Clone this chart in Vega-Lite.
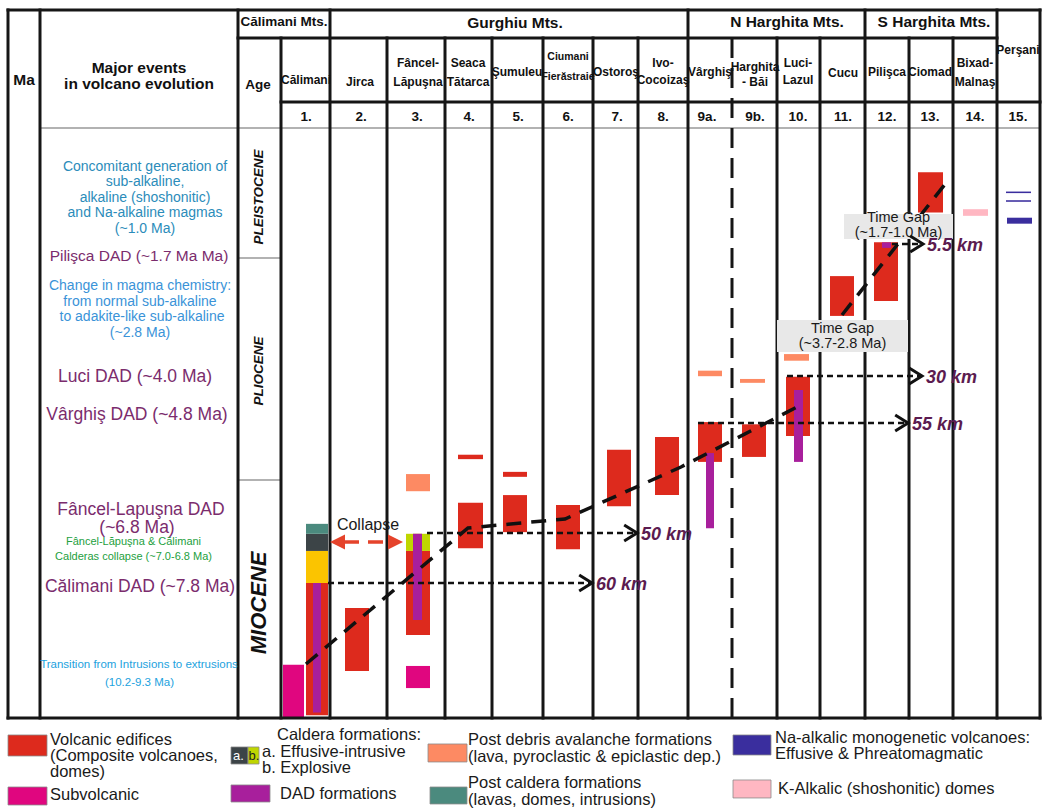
{
"$schema": "https://vega.github.io/schema/vega-lite/v6.json",
"width": 1043, "height": 812, "padding": 0,
"autosize": {"type": "fit", "contains": "padding"},
"background": "#ffffff",
"config": {"view": {"stroke": null}},
"datasets": {
"frame": [
{"x":8,"xEnd":8,"ma":-2.622,"maEnd":10.181},
{"x":40,"xEnd":40,"ma":-2.622,"maEnd":10.181},
{"x":238,"xEnd":238,"ma":-2.622,"maEnd":10.181},
{"x":281,"xEnd":281,"ma":-2.116,"maEnd":10.181},
{"x":330,"xEnd":330,"ma":-2.622,"maEnd":10.181},
{"x":387,"xEnd":387,"ma":-2.116,"maEnd":10.181},
{"x":445,"xEnd":445,"ma":-2.116,"maEnd":10.181},
{"x":492,"xEnd":492,"ma":-2.116,"maEnd":10.181},
{"x":543,"xEnd":543,"ma":-2.116,"maEnd":10.181},
{"x":593,"xEnd":593,"ma":-2.116,"maEnd":10.181},
{"x":638,"xEnd":638,"ma":-2.116,"maEnd":10.181},
{"x":688,"xEnd":688,"ma":-2.622,"maEnd":10.181},
{"x":777,"xEnd":777,"ma":-2.116,"maEnd":10.181},
{"x":820,"xEnd":820,"ma":-2.116,"maEnd":10.181},
{"x":865,"xEnd":865,"ma":-2.622,"maEnd":10.181},
{"x":909,"xEnd":909,"ma":-2.116,"maEnd":10.181},
{"x":953,"xEnd":953,"ma":-2.116,"maEnd":10.181},
{"x":997,"xEnd":997,"ma":-2.622,"maEnd":10.181},
{"x":1040,"xEnd":1040,"ma":-2.622,"maEnd":10.181},
{"x":8,"xEnd":1040,"ma":-2.622,"maEnd":-2.622},
{"x":238,"xEnd":997,"ma":-2.116,"maEnd":-2.116},
{"x":281,"xEnd":1040,"ma":-0.958,"maEnd":-0.958},
{"x":8,"xEnd":1040,"ma":10.181,"maEnd":10.181}
],
"thinLines": [
{"x":40,"xEnd":1040,"ma":-0.488,"maEnd":-0.488},
{"x":238,"xEnd":281,"ma":1.863,"maEnd":1.863},
{"x":238,"xEnd":281,"ma":5.877,"maEnd":5.877}
],
"dashedCol": [{"x":732,"xEnd":732,"ma":-2.116,"maEnd":10.181}],
"majorTicks": [{"ma":0},{"ma":0.5},{"ma":1},{"ma":1.5},{"ma":2},{"ma":2.5},{"ma":3},{"ma":3.5},{"ma":4},{"ma":4.5},{"ma":5},{"ma":5.5},{"ma":6},{"ma":6.5},{"ma":7},{"ma":7.5},{"ma":8},{"ma":8.5},{"ma":9},{"ma":9.5},{"ma":10}],
"minorTicks": [{"ma":0.25},{"ma":0.75},{"ma":1.25},{"ma":1.75},{"ma":2.25},{"ma":2.75},{"ma":3.25},{"ma":3.75},{"ma":4.25},{"ma":4.75},{"ma":5.25},{"ma":5.75},{"ma":6.25},{"ma":6.75},{"ma":7.25},{"ma":7.75},{"ma":8.25},{"ma":8.75},{"ma":9.25},{"ma":9.75}],
"maLabels": [{"t":"0","ma":0},{"t":"1","ma":1},{"t":"2","ma":2},{"t":"3","ma":3},{"t":"4","ma":4},{"t":"5","ma":5},{"t":"6","ma":6},{"t":"7","ma":7},{"t":"8","ma":8},{"t":"9","ma":9},{"t":"10","ma":10}],
"bars": [
{"site":"Călimani","type":"subvolcanic","x":283,"xEnd":304,"ma":9.22,"maEnd":10.18},
{"site":"Călimani","type":"volcanic","x":306,"xEnd":328,"ma":7.74,"maEnd":10.13},
{"site":"Călimani","type":"calderaPre","x":306,"xEnd":328,"ma":7.16,"maEnd":7.74},
{"site":"Călimani","type":"calderaA","x":306,"xEnd":328,"ma":6.85,"maEnd":7.16},
{"site":"Călimani","type":"postcaldera","x":306,"xEnd":328,"ma":6.67,"maEnd":6.85},
{"site":"Jirca","type":"volcanic","x":345,"xEnd":369,"ma":8.19,"maEnd":9.33},
{"site":"Fâncel-Lăpuşna","type":"postdebris","x":406,"xEnd":430,"ma":5.77,"maEnd":6.08},
{"site":"Fâncel-Lăpuşna","type":"calderaB","x":406,"xEnd":430,"ma":6.85,"maEnd":7.16},
{"site":"Fâncel-Lăpuşna","type":"volcanic","x":406,"xEnd":430,"ma":7.16,"maEnd":8.68},
{"site":"Fâncel-Lăpuşna","type":"subvolcanic","x":406,"xEnd":430,"ma":9.24,"maEnd":9.64},
{"site":"Seaca Tătarca","type":"volcanic","x":458,"xEnd":483,"ma":5.42,"maEnd":5.5},
{"site":"Seaca Tătarca","type":"volcanic","x":458,"xEnd":483,"ma":6.29,"maEnd":7.11},
{"site":"Şumuleu","type":"volcanic","x":503,"xEnd":527,"ma":5.73,"maEnd":5.82},
{"site":"Şumuleu","type":"volcanic","x":503,"xEnd":527,"ma":6.15,"maEnd":6.82},
{"site":"Ciumani Fierăstraie","type":"volcanic","x":556,"xEnd":580,"ma":6.33,"maEnd":7.13},
{"site":"Ostoroş","type":"volcanic","x":607,"xEnd":631,"ma":5.33,"maEnd":6.35},
{"site":"Ivo-Cocoizaş","type":"volcanic","x":655,"xEnd":679,"ma":5.1,"maEnd":6.15},
{"site":"Vârghiş","type":"postdebris","x":698,"xEnd":722,"ma":3.9,"maEnd":4.0},
{"site":"Vârghiş","type":"volcanic","x":698,"xEnd":722,"ma":4.83,"maEnd":5.55},
{"site":"Harghita-Băi","type":"postdebris","x":740,"xEnd":765,"ma":4.05,"maEnd":4.12},
{"site":"Harghita-Băi","type":"volcanic","x":742,"xEnd":766,"ma":4.87,"maEnd":5.46},
{"site":"Luci-Lazul","type":"postdebris","x":784,"xEnd":809,"ma":3.6,"maEnd":3.72},
{"site":"Luci-Lazul","type":"volcanic","x":786,"xEnd":810,"ma":4.01,"maEnd":5.08},
{"site":"Cucu","type":"volcanic","x":830,"xEnd":854,"ma":2.19,"maEnd":2.91},
{"site":"Pilişca","type":"volcanic","x":874,"xEnd":898,"ma":1.58,"maEnd":2.64},
{"site":"Ciomad","type":"volcanic","x":918,"xEnd":943,"ma":0.31,"maEnd":1.04},
{"site":"Bixad-Malnaş","type":"kalkalic","x":963,"xEnd":988,"ma":0.98,"maEnd":1.1},
{"site":"Perşani","type":"naalkalic","x":1006,"xEnd":1031,"ma":0.661,"maEnd":0.689},
{"site":"Perşani","type":"naalkalic","x":1006,"xEnd":1031,"ma":0.818,"maEnd":0.846},
{"site":"Perşani","type":"naalkalic","x":1007,"xEnd":1032,"ma":1.134,"maEnd":1.242},
{"site":"Călimani","type":"dad","x":313,"xEnd":321,"ma":7.74,"maEnd":10.08},
{"site":"Fâncel-Lăpuşna","type":"dad","x":413,"xEnd":422,"ma":6.85,"maEnd":8.41},
{"site":"Vârghiş","type":"dad","x":706,"xEnd":714,"ma":5.39,"maEnd":6.75},
{"site":"Luci-Lazul","type":"dad","x":794,"xEnd":803,"ma":4.25,"maEnd":5.55},
{"site":"Pilişca","type":"dad","x":882,"xEnd":891,"ma":1.58,"maEnd":1.68}
],
"trend": [
{"seg":"A","ord":1,"x":306,"ma":9.204},
{"seg":"A","ord":2,"x":468,"ma":6.745},
{"seg":"A","ord":3,"x":565,"ma":6.582},
{"seg":"A","ord":4,"x":681,"ma":5.642},
{"seg":"A","ord":5,"x":797,"ma":4.557},
{"seg":"B","ord":1,"x":842,"ma":2.893},
{"seg":"B","ord":2,"x":946,"ma":0.506}
],
"gapBoxes": [
{"x":844,"xEnd":953,"ma":1.067,"maEnd":1.519},
{"x":777,"xEnd":908,"ma":2.984,"maEnd":3.562}
],
"gapText": [
{"t":"Time Gap","x":898.5,"ma":1.14},
{"t":"(~1.7-1.0 Ma)","x":898.5,"ma":1.415},
{"t":"Time Gap","x":842.5,"ma":3.146},
{"t":"(~3.7-2.8 Ma)","x":842.5,"ma":3.42}
],
"distances": [
{"label":"60 km","x":328,"xEnd":592,"ma":7.74},
{"label":"50 km","x":427,"xEnd":637,"ma":6.835},
{"label":"55 km","x":698,"xEnd":908,"ma":4.846},
{"label":"30 km","x":787,"xEnd":922,"ma":3.996},
{"label":"5.5 km","x":892,"xEnd":923,"ma":1.609}
],
"collapseLine": [{"x":344,"xEnd":389,"ma":6.998}],
"collapseHeads": [{"dir":"left","x":337.5,"ma":6.998},{"dir":"right","x":395.5,"ma":6.998}],
"collapseText": [{"t":"Collapse","x":368,"ma":6.691}],
"headBold": [
{"t":"Ma","x":24,"ma":-1.356},
{"t":"Major events","x":139,"ma":-1.573},
{"t":"in volcano evolution","x":139,"ma":-1.284},
{"t":"Gurghiu Mts.","x":515,"ma":-2.387},
{"t":"N Harghita Mts.","x":787,"ma":-2.405},
{"t":"S Harghita Mts.","x":934,"ma":-2.405}
],
"headNarrowBig": [
{"t":"Călimani Mts.","x":284,"ma":-2.405},
{"t":"Age","x":258,"ma":-1.266}
],
"headNarrow": [
{"t":"Călimani","x":306,"ma":-1.356},
{"t":"Jirca","x":360,"ma":-1.32},
{"t":"Fâncel-","x":418,"ma":-1.664},
{"t":"Lăpuşna","x":418,"ma":-1.32},
{"t":"Seaca","x":468,"ma":-1.664},
{"t":"Tătarca","x":468,"ma":-1.32},
{"t":"Şumuleu","x":517,"ma":-1.501},
{"t":"Ostoroş","x":616,"ma":-1.501},
{"t":"Ivo-","x":663,"ma":-1.664},
{"t":"Cocoizaş","x":663,"ma":-1.356},
{"t":"Vârghiş","x":710,"ma":-1.501},
{"t":"Harghita","x":755,"ma":-1.591},
{"t":"- Băi","x":755,"ma":-1.32},
{"t":"Luci-","x":798,"ma":-1.664},
{"t":"Lazul","x":798,"ma":-1.356},
{"t":"Cucu","x":843,"ma":-1.483},
{"t":"Pilişca","x":887,"ma":-1.501},
{"t":"Ciomad","x":930,"ma":-1.501},
{"t":"Bixad-","x":975,"ma":-1.664},
{"t":"Malnaş","x":975,"ma":-1.32},
{"t":"Perşani","x":1018,"ma":-1.899}
],
"headNarrowSmall": [
{"t":"Ciumani","x":568,"ma":-1.772},
{"t":"Fierăstraie","x":568,"ma":-1.41}
],
"numbers": [
{"t":"1.","x":306,"ma":-0.687},{"t":"2.","x":361,"ma":-0.687},{"t":"3.","x":417,"ma":-0.687},{"t":"4.","x":469,"ma":-0.687},
{"t":"5.","x":518,"ma":-0.687},{"t":"6.","x":568,"ma":-0.687},{"t":"7.","x":617,"ma":-0.687},{"t":"8.","x":663,"ma":-0.687},
{"t":"9a.","x":707,"ma":-0.687},{"t":"9b.","x":755,"ma":-0.687},{"t":"10.","x":798,"ma":-0.687},{"t":"11.","x":843,"ma":-0.687},
{"t":"12.","x":887,"ma":-0.687},{"t":"13.","x":930,"ma":-0.687},{"t":"14.","x":975,"ma":-0.687},{"t":"15.","x":1018,"ma":-0.687}
],
"evTeal": [
{"t":"Concomitant generation of","x":145,"ma":0.217},
{"t":"sub-alkaline,","x":145,"ma":0.488},
{"t":"alkaline (shoshonitic)","x":145,"ma":0.778},
{"t":"and Na-alkaline magmas","x":145,"ma":1.049},
{"t":"(~1.0 Ma)","x":145,"ma":1.338}
],
"evBlue": [
{"t":"Change in magma chemistry:","x":140,"ma":2.369},
{"t":"from normal sub-alkaline","x":140,"ma":2.658},
{"t":"to adakite-like sub-alkaline","x":142,"ma":2.929},
{"t":"(~2.8 Ma)","x":140,"ma":3.219}
],
"evPurpleSmall": [{"t":"Pilişca DAD (~1.7 Ma Ma)","x":139,"ma":1.826}],
"evPurple": [
{"t":"Luci DAD (~4.0 Ma)","x":135,"ma":4.014},
{"t":"Vârghiş DAD (~4.8 Ma)","x":137,"ma":4.702},
{"t":"Fâncel-Lapuşna DAD","x":141,"ma":6.42},
{"t":"(~6.8 Ma)","x":137,"ma":6.745},
{"t":"Călimani DAD (~7.8 Ma)","x":140,"ma":7.812}
],
"evGreen": [
{"t":"Fâncel-Lăpuşna & Călimani","x":133.5,"ma":6.998},
{"t":"Calderas collapse (~7.0-6.8 Ma)","x":133.5,"ma":7.269}
],
"evCyan": [
{"t":"Transition from Intrusions to extrusions","x":139,"ma":9.222},
{"t":"(10.2-9.3 Ma)","x":139.5,"ma":9.548}
],
"epochSmall": [
{"t":"PLEISTOCENE","x":259,"ma":0.76},
{"t":"PLIOCENE","x":259,"ma":3.906}
],
"epochBig": [{"t":"MIOCENE","x":259,"ma":8.1}],
"legendSwatches": [
{"type":"volcanic","x":8,"xEnd":47,"ma":10.488,"maEnd":10.868},
{"type":"subvolcanic","x":8,"xEnd":47,"ma":11.429,"maEnd":11.754},
{"type":"calderaA","x":231,"xEnd":248,"ma":10.705,"maEnd":11.013},
{"type":"calderaB","x":248,"xEnd":259,"ma":10.705,"maEnd":11.013},
{"type":"dad","x":231,"xEnd":270,"ma":11.392,"maEnd":11.7},
{"type":"postdebris","x":428,"xEnd":467,"ma":10.651,"maEnd":10.976},
{"type":"postcaldera","x":430,"xEnd":467,"ma":11.429,"maEnd":11.736},
{"type":"naalkalic","x":733,"xEnd":771,"ma":10.488,"maEnd":10.85},
{"type":"kalkalic","x":733,"xEnd":771,"ma":11.302,"maEnd":11.627}
],
"legendText": [
{"t":"Volcanic edifices","x":50,"ma":10.579},
{"t":"(Composite volcanoes,","x":50,"ma":10.868},
{"t":"domes)","x":50,"ma":11.157},
{"t":"Subvolcanic","x":50,"ma":11.573},
{"t":"Caldera formations:","x":277,"ma":10.488},
{"t":"a. Effusive-intrusive","x":262,"ma":10.796},
{"t":"b. Explosive","x":262,"ma":11.085},
{"t":"DAD formations","x":280,"ma":11.555},
{"t":"Post debris avalanche formations","x":468,"ma":10.579},
{"t":"(lava, pyroclastic & epiclastic dep.)","x":468,"ma":10.886},
{"t":"Post caldera formations","x":468,"ma":11.356},
{"t":"(lavas, domes, intrusions)","x":468,"ma":11.664},
{"t":"Na-alkalic monogenetic volcanoes:","x":775,"ma":10.542},
{"t":"Effusive & Phreatomagmatic","x":775,"ma":10.832},
{"t":"K-Alkalic (shoshonitic) domes","x":778,"ma":11.465}
],
"legendA": [{"t":"a.","x":238.5,"ma":10.868}],
"legendB": [{"t":"b.","x":254,"ma":10.868}]
},
"encoding": {
"x": {"field":"x","type":"quantitative","scale":{"domain":[0,1043],"nice":false,"zero":false},"axis":null},
"y": {"field":"ma","type":"quantitative","scale":{"domain":[-2.803,11.881],"reverse":true,"nice":false,"zero":false},"axis":null}
},
"layer": [
{"data":{"name":"thinLines"},"mark":{"type":"rule","stroke":"#666666","strokeWidth":1.2},
 "encoding":{"x2":{"field":"xEnd"},"y2":{"field":"maEnd"}}},
{"data":{"name":"majorTicks"},"mark":{"type":"rule","stroke":"#333333","strokeWidth":1.3},
 "encoding":{"x":{"datum":40,"type":"quantitative","scale":{"domain":[0,1043],"nice":false,"zero":false}},"x2":{"datum":52}}},
{"data":{"name":"minorTicks"},"mark":{"type":"rule","stroke":"#b0b0b0","strokeWidth":1},
 "encoding":{"x":{"datum":40,"type":"quantitative","scale":{"domain":[0,1043],"nice":false,"zero":false}},"x2":{"datum":50}}},
{"data":{"name":"bars"},"mark":{"type":"rect"},
 "encoding":{"x2":{"field":"xEnd"},"y2":{"field":"maEnd"},
  "color":{"field":"type","type":"nominal","legend":null,
   "scale":{"domain":["volcanic","subvolcanic","dad","postdebris","calderaA","calderaB","postcaldera","calderaPre","naalkalic","kalkalic"],
            "range":["#dd2a1d","#e0067f","#a81f9c","#fd8a63","#3c4447","#bfd600","#4b8a7e","#fbc400","#3a2e9e","#ffb7c2"]}}}},
{"data":{"name":"frame"},"mark":{"type":"rule","stroke":"#161616","strokeWidth":3,"strokeCap":"square"},
 "encoding":{"x2":{"field":"xEnd"},"y2":{"field":"maEnd"}}},
{"data":{"name":"dashedCol"},"mark":{"type":"rule","stroke":"#161616","strokeWidth":3,"strokeDash":[20,10]},
 "encoding":{"x2":{"field":"xEnd"},"y2":{"field":"maEnd"}}},
{"data":{"name":"trend"},"mark":{"type":"line","stroke":"#111111","strokeWidth":3.5,"strokeDash":[15,10]},
 "encoding":{"detail":{"field":"seg","type":"nominal"},"order":{"field":"ord","type":"quantitative"}}},
{"data":{"name":"gapBoxes"},"mark":{"type":"rect","fill":"#e8e8e8"},
 "encoding":{"x2":{"field":"xEnd"},"y2":{"field":"maEnd"}}},
{"data":{"name":"gapText"},"mark":{"type":"text","font":"Liberation Sans","fontSize":14.5,"fill":"#1a1a1a","align":"center","baseline":"middle"},
 "encoding":{"text":{"field":"t"}}},
{"data":{"name":"distances"},"mark":{"type":"rule","stroke":"#111111","strokeWidth":2.5,"strokeDash":[6,4]},
 "encoding":{"x2":{"field":"xEnd"}}},
{"data":{"name":"distances"},"mark":{"type":"point","shape":"M-1.6,-1L0,0L-1.6,1","filled":false,"size":256,"stroke":"#111111","strokeWidth":3,"opacity":1},
 "encoding":{"x":{"field":"xEnd","type":"quantitative","scale":{"domain":[0,1043],"nice":false,"zero":false}}}},
{"data":{"name":"distances"},"mark":{"type":"text","font":"Liberation Sans","fontSize":18,"fontWeight":"bold","fontStyle":"italic","fill":"#5c1b50","align":"left","baseline":"middle","dx":4,"dy":2},
 "encoding":{"x":{"field":"xEnd","type":"quantitative","scale":{"domain":[0,1043],"nice":false,"zero":false}},"text":{"field":"label"}}},
{"data":{"name":"collapseLine"},"mark":{"type":"rule","stroke":"#e5432b","strokeWidth":3.5,"strokeDash":[15,9]},
 "encoding":{"x2":{"field":"xEnd"}}},
{"data":{"name":"collapseHeads"},"mark":{"type":"point","filled":true,"size":225,"fill":"#e5432b","opacity":1,"strokeWidth":0},
 "encoding":{"shape":{"field":"dir","type":"nominal","legend":null,"scale":{"domain":["left","right"],"range":["M-1,0L1,-1L1,1Z","M1,0L-1,-1L-1,1Z"]}}}},
{"data":{"name":"collapseText"},"mark":{"type":"text","font":"Liberation Sans","fontSize":16,"fill":"#1a1a1a","align":"center","baseline":"middle"},
 "encoding":{"text":{"field":"t"}}},
{"data":{"name":"headBold"},"mark":{"type":"text","font":"Liberation Sans","fontSize":15.5,"fontWeight":"bold","fill":"#111111","align":"center","baseline":"middle"},
 "encoding":{"text":{"field":"t"}}},
{"data":{"name":"headNarrowBig"},"mark":{"type":"text","font":"Liberation Sans","fontSize":13.5,"fontWeight":"bold","fill":"#111111","align":"center","baseline":"middle"},
 "encoding":{"text":{"field":"t"}}},
{"data":{"name":"headNarrow"},"mark":{"type":"text","font":"Liberation Sans","fontSize":12,"fontWeight":"bold","fill":"#111111","align":"center","baseline":"middle"},
 "encoding":{"text":{"field":"t"}}},
{"data":{"name":"headNarrowSmall"},"mark":{"type":"text","font":"Liberation Sans","fontSize":10.5,"fontWeight":"bold","fill":"#111111","align":"center","baseline":"middle"},
 "encoding":{"text":{"field":"t"}}},
{"data":{"name":"numbers"},"mark":{"type":"text","font":"Liberation Sans","fontSize":13.5,"fontWeight":"bold","fill":"#111111","align":"center","baseline":"middle"},
 "encoding":{"text":{"field":"t"}}},
{"data":{"name":"maLabels"},"mark":{"type":"text","font":"Liberation Sans","fontSize":16,"fontWeight":"bold","fill":"#111111","align":"right","baseline":"middle"},
 "encoding":{"x":{"datum":33,"type":"quantitative","scale":{"domain":[0,1043],"nice":false,"zero":false}},"text":{"field":"t"}}},
{"data":{"name":"evTeal"},"mark":{"type":"text","font":"Liberation Sans","fontSize":14,"fill":"#2b8cba","align":"center","baseline":"middle"},
 "encoding":{"text":{"field":"t"}}},
{"data":{"name":"evBlue"},"mark":{"type":"text","font":"Liberation Sans","fontSize":14,"fill":"#3a93d8","align":"center","baseline":"middle"},
 "encoding":{"text":{"field":"t"}}},
{"data":{"name":"evPurpleSmall"},"mark":{"type":"text","font":"Liberation Sans","fontSize":15.5,"fill":"#7b2c6d","align":"center","baseline":"middle"},
 "encoding":{"text":{"field":"t"}}},
{"data":{"name":"evPurple"},"mark":{"type":"text","font":"Liberation Sans","fontSize":17.5,"fill":"#7b2c6d","align":"center","baseline":"middle"},
 "encoding":{"text":{"field":"t"}}},
{"data":{"name":"evGreen"},"mark":{"type":"text","font":"Liberation Sans","fontSize":11,"fill":"#23a040","align":"center","baseline":"middle"},
 "encoding":{"text":{"field":"t"}}},
{"data":{"name":"evCyan"},"mark":{"type":"text","font":"Liberation Sans","fontSize":11.5,"fill":"#1ca2de","align":"center","baseline":"middle"},
 "encoding":{"text":{"field":"t"}}},
{"data":{"name":"epochSmall"},"mark":{"type":"text","font":"Liberation Sans","fontSize":13.5,"fontWeight":"bold","fontStyle":"italic","fill":"#111111","align":"center","baseline":"middle","angle":270},
 "encoding":{"text":{"field":"t"}}},
{"data":{"name":"epochBig"},"mark":{"type":"text","font":"Liberation Sans","fontSize":22,"fontWeight":"bold","fontStyle":"italic","fill":"#111111","align":"center","baseline":"middle","angle":270},
 "encoding":{"text":{"field":"t"}}},
{"data":{"name":"legendSwatches"},"mark":{"type":"rect","stroke":"#8a8a8a","strokeWidth":0.8},
 "encoding":{"x2":{"field":"xEnd"},"y2":{"field":"maEnd"},
  "color":{"field":"type","type":"nominal","legend":null,
   "scale":{"domain":["volcanic","subvolcanic","dad","postdebris","calderaA","calderaB","postcaldera","calderaPre","naalkalic","kalkalic"],
            "range":["#dd2a1d","#e0067f","#a81f9c","#fd8a63","#3c4447","#bfd600","#4b8a7e","#fbc400","#3a2e9e","#ffb7c2"]}}}},
{"data":{"name":"legendText"},"mark":{"type":"text","font":"Liberation Sans","fontSize":16.5,"fill":"#1a1a1a","align":"left","baseline":"middle"},
 "encoding":{"text":{"field":"t"}}},
{"data":{"name":"legendA"},"mark":{"type":"text","font":"Liberation Sans","fontSize":13,"fill":"#ffffff","align":"center","baseline":"middle"},
 "encoding":{"text":{"field":"t"}}},
{"data":{"name":"legendB"},"mark":{"type":"text","font":"Liberation Sans","fontSize":13,"fill":"#222222","align":"center","baseline":"middle"},
 "encoding":{"text":{"field":"t"}}}
]
}
